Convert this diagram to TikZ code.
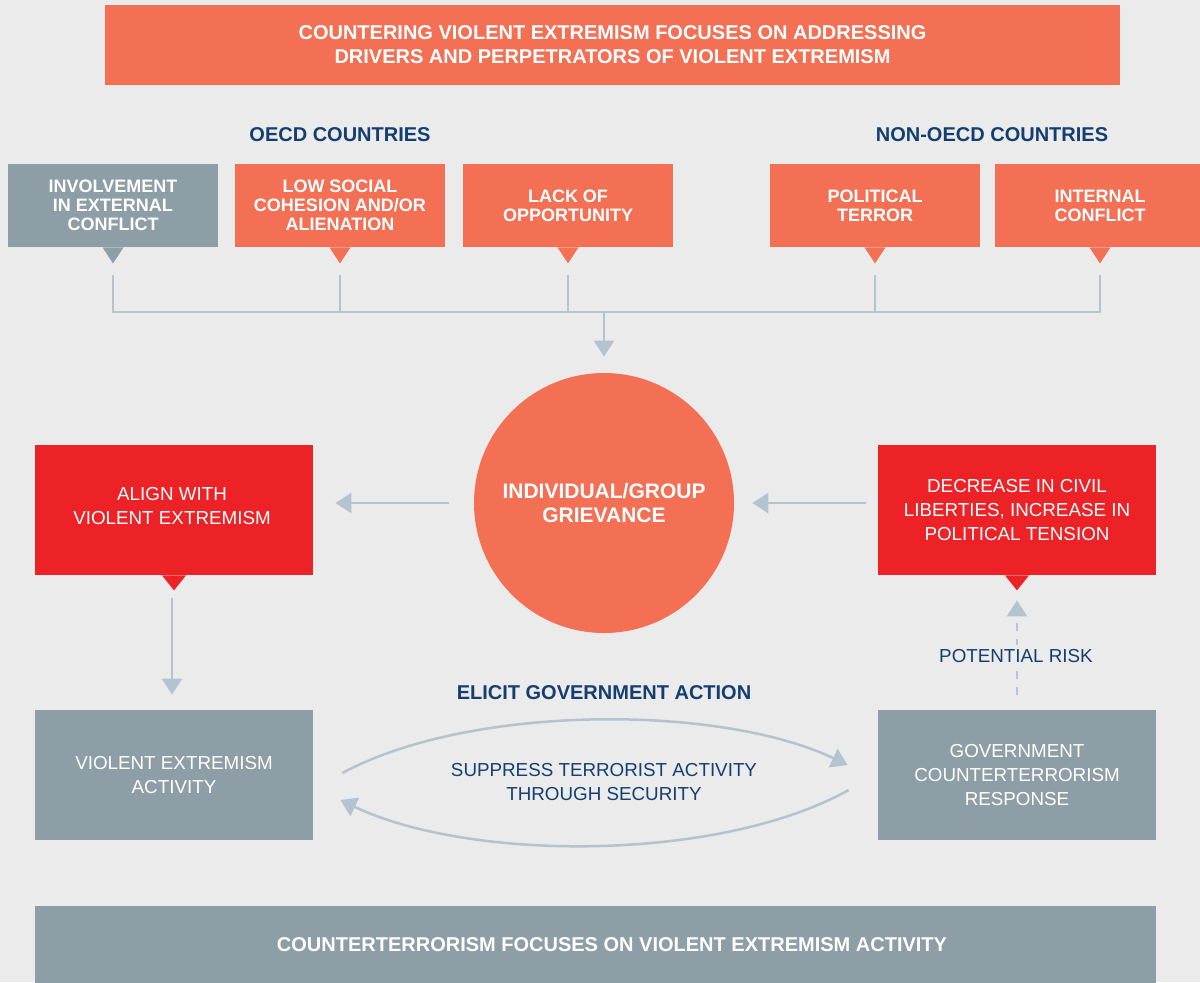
\documentclass[tikz,border=0pt]{standalone}
\usepackage{fontspec}
\setmainfont{Liberation Sans}
\usetikzlibrary{arrows.meta,calc}
\definecolor{bgc}{HTML}{EBEBEB}
\definecolor{salmon}{HTML}{F37055}
\definecolor{redc}{HTML}{EC2227}
\definecolor{grayc}{HTML}{8E9EA6}
\definecolor{linec}{HTML}{B4C3D0}
\definecolor{navy}{HTML}{143E6F}
\newcommand\tailtri[4]{\fill[#2] ($(#1.south)+(-#3,0)$) -- ($(#1.south)+(#3,0)$) -- ($(#1.south)+(0,#4)$) -- cycle;}
\begin{document}
\begin{tikzpicture}[x=0.5pt,y=-0.5pt,
  topbox/.style={minimum width=105pt, minimum height=41.5pt, inner sep=0pt, align=center, text=white, font=\bfseries\fontsize{9}{9.5}\selectfont},
  bigbox/.style={minimum width=139pt, minimum height=65pt, inner sep=0pt, align=center, text=white, font=\fontsize{9.4}{12}\selectfont},
  bandbox/.style={inner sep=0pt, align=center, text=white, font=\bfseries\fontsize{10}{12}\selectfont},
  head/.style={text=navy, font=\bfseries\fontsize{10}{12}\selectfont},
  lbl/.style={text=navy, align=center, font=\fontsize{9.4}{12}\selectfont},
  conn/.style={draw=linec, line width=1.25pt},
  arr/.style={conn, -{Triangle[width=10pt,length=8pt]}}]
\useasboundingbox[fill=bgc] (0,0) rectangle (1200,982);
% title band
\node[bandbox, fill=salmon, minimum width=507.5pt, minimum height=40pt] (title) at (612.5,45)
  {COUNTERING VIOLENT EXTREMISM FOCUSES ON ADDRESSING\\DRIVERS AND PERPETRATORS OF VIOLENT EXTREMISM};
\node[head] (oecd) at (340,135) {OECD COUNTRIES};
\node[head] (noecd) at (992,135) {NON-OECD COUNTRIES};
% top boxes
\node[topbox, fill=grayc] (b1) at (113,205.5) {INVOLVEMENT\\IN EXTERNAL\\CONFLICT};
\node[topbox, fill=salmon] (b2) at (340,205.5) {LOW SOCIAL\\COHESION AND/OR\\ALIENATION};
\node[topbox, fill=salmon] (b3) at (568,205.5) {LACK OF\\OPPORTUNITY};
\node[topbox, fill=salmon] (b4) at (875,205.5) {POLITICAL\\TERROR};
\node[topbox, fill=salmon] (b5) at (1100,205.5) {INTERNAL\\CONFLICT};
\tailtri{b1}{grayc}{10.5}{16}
\tailtri{b2}{salmon}{10.5}{16}
\tailtri{b3}{salmon}{10.5}{16}
\tailtri{b4}{salmon}{10.5}{16}
\tailtri{b5}{salmon}{10.5}{16}
% grievance circle
\node[circle, fill=salmon, minimum size=130pt, inner sep=0pt, align=center, text=white,
  font=\bfseries\fontsize{10.5}{12}\selectfont] (griev) at (604,503) {\rule{0pt}{6pt}INDIVIDUAL/GROUP\\GRIEVANCE};
% connector tree
\coordinate (hub) at (604,312);
\draw[conn] ($(b1.south)+(0,28)$) -- (b1.south |- hub) -- (b5.south |- hub) -- ($(b5.south)+(0,28)$);
\draw[conn] ($(b2.south)+(0,28)$) -- (b2.south |- hub);
\draw[conn] ($(b3.south)+(0,28)$) -- (b3.south |- hub);
\draw[conn] ($(b4.south)+(0,28)$) -- (b4.south |- hub);
\draw[arr] (hub) -- ($(griev.north)+(0,-16)$);
% big boxes
\node[bigbox, fill=redc] (align) at (174,510) {};
\node[lbl, text=white, font=\fontsize{9.4}{12}\selectfont] (aligntxt) at (172,506) {ALIGN WITH\\VIOLENT EXTREMISM};
\node[bigbox, fill=redc] (decr) at (1017,510) {DECREASE IN CIVIL\\LIBERTIES, INCREASE IN\\POLITICAL TENSION};
\node[bigbox, fill=grayc] (vea) at (174,775) {VIOLENT EXTREMISM\\ACTIVITY};
\node[bigbox, fill=grayc] (gcr) at (1017,775) {GOVERNMENT\\COUNTERTERRORISM\\RESPONSE};
\tailtri{align}{redc}{12}{15}
\tailtri{decr}{redc}{12}{15}
% arrows
\draw[arr] ($(griev.west)+(-25,0)$) -- ($(align.east |- griev.west)+(22,0)$);
\draw[arr] ($(decr.west |- griev.east)+(-12,0)$) -- ($(griev.east)+(18,0)$);
\draw[arr] ($(align.south)+(-2,23)$) -- ($(vea.north)+(-2,-15)$);
\draw[arr, dash pattern=on 4pt off 4pt] ($(gcr.north)+(0,-15)$) -- ($(decr.south)+(0,25)$);
\node[lbl, fill=bgc, inner sep=2pt] (risk) at (1016,656) {POTENTIAL RISK};
% cycle
\node[head] (elicit) at (604,693) {ELICIT GOVERNMENT ACTION};
\node[lbl] (supp) at (604,782) {SUPPRESS TERRORIST ACTIVITY\\THROUGH SECURITY};
\draw[arr] ($(vea.east)+(29,-2)$) .. controls (470,704) and (720,704) .. ($(gcr.west)+(-30,-10)$);
\draw[arr] ($(gcr.west)+(-29,15)$) .. controls (720,862) and (470,862) .. ($(vea.east)+(27,25)$);
% bottom band
\node[fill=grayc, minimum width=560.5pt, minimum height=39pt, inner sep=0pt] (ct) at (595.5,945) {};
\node[bandbox] (cttxt) at (612,945) {COUNTERTERRORISM FOCUSES ON VIOLENT EXTREMISM ACTIVITY};
\end{tikzpicture}
\end{document}
